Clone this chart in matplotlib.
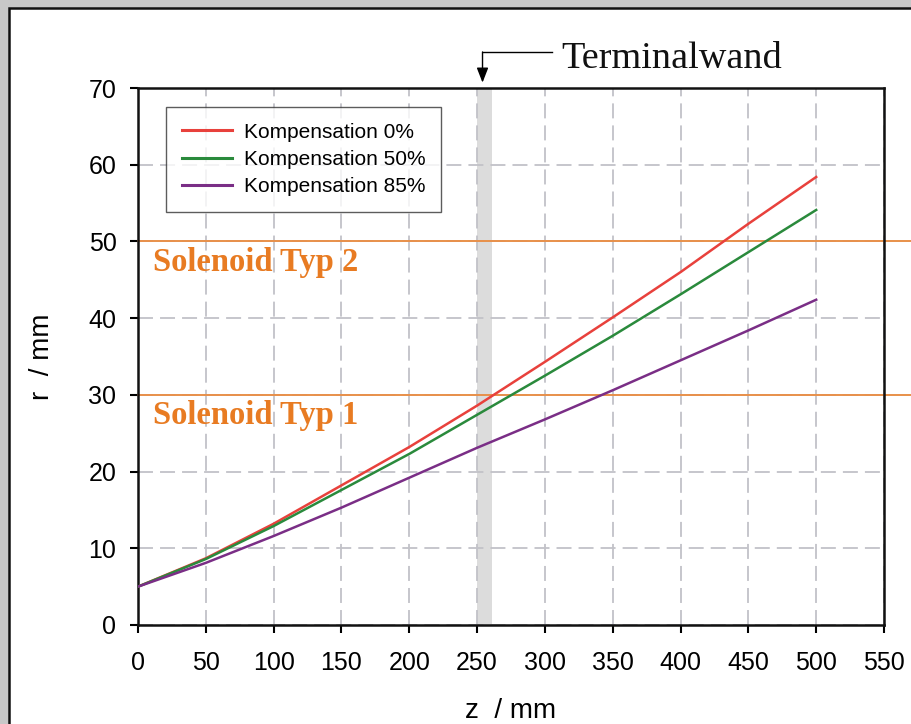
import matplotlib
matplotlib.use('Agg')
from matplotlib import pyplot as plt
from matplotlib.patches import Rectangle

z = [0, 50, 100, 150, 200, 250, 300, 350, 400, 450, 500]
r_0 = [5.0, 8.7, 13.2, 18.2, 23.2, 28.6, 34.3, 40.1, 46.0, 52.3, 58.4]
r_50 = [5.0, 8.6, 12.9, 17.6, 22.3, 27.4, 32.5, 37.7, 43.1, 48.6, 54.1]
r_85 = [5.0, 8.1, 11.6, 15.3, 19.2, 23.1, 26.8, 30.6, 34.5, 38.4, 42.4]
labels = ['Kompensation 0%', 'Kompensation 50%', 'Kompensation 85%']
colors = ['#e8413c', '#2a8a3c', '#7a2e86']
solenoid_r = [50, 30]
solenoid_names = ['Solenoid Typ 2', 'Solenoid Typ 1']
wall_z = (250, 261)

sans = ['Liberation Sans', 'DejaVu Sans']
serif = ['Liberation Serif', 'DejaVu Serif']

fig = plt.figure(figsize=(9.11, 7.24), dpi=100, facecolor='#c8c8c8')
fig.patches.append(Rectangle((9 / 911, -0.1), 1.2, 1.1 - 8 / 724,
                             transform=fig.transFigure, facecolor='white',
                             edgecolor='#111111', linewidth=1.8, zorder=-5))

ax = fig.add_axes([138 / 911, 1 - 625 / 724, 746 / 911, 537 / 724])
ax.set_facecolor('white')

ax.axvspan(wall_z[0], wall_z[1], color='#dcdcdc', zorder=0.5, lw=0)

for r, c, l in zip([r_0, r_50, r_85], colors, labels):
    ax.plot(z, r, color=c, lw=1.8, label=l, zorder=3)

for y, name in zip(solenoid_r, solenoid_names):
    ax.plot([0, 620], [y, y], color='#e8904a', lw=1.4, clip_on=False, zorder=2)
    ax.text(11, y - 3.85, name, color='#e87b22', fontsize=23.5, fontweight='bold',
            family=serif, va='baseline', ha='left')

ax.set_xlim(0, 550)
ax.set_ylim(0, 70)
ax.set_xticks(range(0, 551, 50))
ax.set_yticks(range(0, 71, 10))
ax.grid(True, color='#c2c2c8', linestyle=(0, (8.3, 3.9)), lw=1.3, zorder=1)
ax.set_axisbelow(True)
for s in ax.spines.values():
    s.set_linewidth(1.8)
    s.set_color('#111111')
ax.tick_params(direction='out', length=5.5, width=1.5, labelsize=18, pad=10)
for t in ax.get_xticklabels() + ax.get_yticklabels():
    t.set_family(sans)
ax.tick_params(axis='x', pad=13)

ax.set_xlabel('z  / mm', fontsize=20, family=sans, labelpad=17)
ax.set_ylabel('r  / mm', fontsize=20, family=sans, labelpad=24)

leg = ax.legend(loc='upper left', bbox_to_anchor=(0.0375, 0.9646), borderaxespad=0,
                prop={'family': sans, 'size': 15}, frameon=True, fancybox=False,
                handlelength=2.4, handletextpad=0.6, borderpad=0.75, labelspacing=0.4)
leg.get_frame().set_edgecolor('#333333')
leg.get_frame().set_linewidth(1.0)
for h in leg.get_lines():
    h.set_linewidth(2.2)

# Terminalwand annotation
ax.annotate('', xy=(254, 70.7), xytext=(254, 74.7),
            arrowprops=dict(arrowstyle='-|>,head_length=0.9,head_width=0.35',
                            color='black', lw=1.0, shrinkA=0, shrinkB=0),
            annotation_clip=False)
ax.plot([254, 305], [74.7, 74.7], color='black', lw=1.0, clip_on=False)
ax.text(312, 72.6, 'Terminalwand', fontsize=27.5, family=serif, va='baseline',
        ha='left', color='#111111')

fig.savefig('out.png', dpi=100, facecolor=fig.get_facecolor())
